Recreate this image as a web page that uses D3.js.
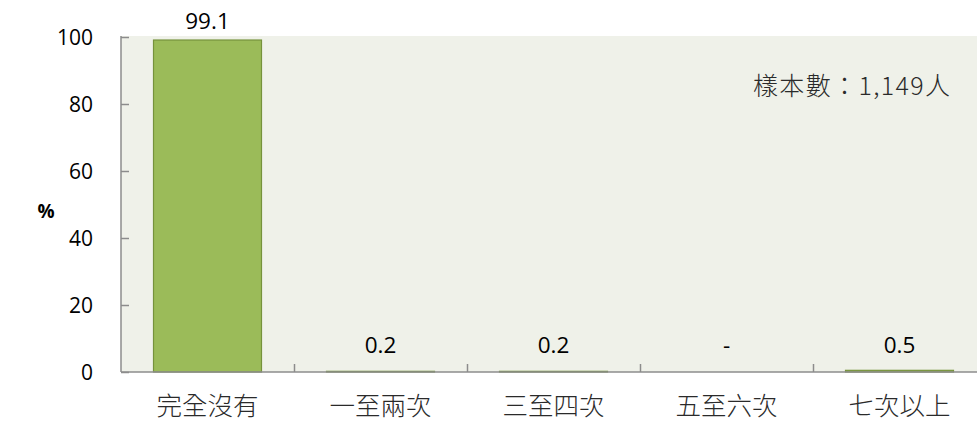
<!DOCTYPE html>
<html><head><meta charset="utf-8">
<script src="https://cdn.jsdelivr.net/npm/d3@7"></script>
<style>body{margin:0;background:#fff}</style>
</head><body><svg id="c" width="977" height="423"></svg>
<script>
const categories = ["完全沒有","一至兩次","三至四次","五至六次","七次以上"];
const values = [99.1, 0.2, 0.2, 0, 0.5];
const valueLabels = ["99.1","0.2","0.2","-","0.5"];
const yTicks = [0,20,40,60,80,100];
const sampleText = "樣本數：1,149人";
const yTitle = "%";

const svg = d3.select("#c");
const pL = 121, pR = 986, pT = 37, pB = 372;
const x = d3.scaleBand().domain(categories).range([pL, pR]).paddingInner(0.37).paddingOuter(0.185);
const y = d3.scaleLinear().domain([0,100]).range([pB, pT]);
const numFont = "'Open Sans', sans-serif";
const cjkFont = "'Noto Sans CJK TC', sans-serif";

svg.append("rect").attr("x", pL).attr("y", pT - 1).attr("width", 977 - pL).attr("height", pB - pT + 1).attr("fill", "#eff1e9");

svg.selectAll("rect.bar").data(values).join("rect").attr("class","bar")
  .attr("x", (d,i) => x(categories[i]) + 0.5)
  .attr("y", d => y(d))
  .attr("width", x.bandwidth() - 1)
  .attr("height", d => pB - y(d))
  .attr("fill", "#9bbb59")
  .attr("stroke", d => d > 0 ? "#76923c" : "none")
  .attr("stroke-width", 1.2);

// y axis
const ya = svg.append("g").attr("transform", `translate(${pL},0)`)
  .call(d3.axisRight(y).tickValues(yTicks).tickSize(8).tickFormat(""));
ya.select(".domain").attr("stroke", "#8c8c8c").attr("stroke-width", 1.5).attr("d", `M0,${pT-1}H0V${pB}`);
ya.selectAll(".tick line").attr("stroke", "#8c8c8c").attr("stroke-width", 1.5);
svg.selectAll("text.yt").data(yTicks).join("text").attr("class","yt")
  .attr("x", 93).attr("y", d => y(d)).attr("dy", "0.36em").attr("text-anchor","end")
  .attr("font-family", numFont).attr("font-size", 21).attr("fill","#000").text(d => d);

// x axis
const xa = svg.append("g").attr("transform", `translate(0,${pB})`)
  .call(d3.axisTop(d3.scaleLinear().domain([0,5]).range([pL, pR])).tickValues([1,2,3,4]).tickSize(8).tickFormat(""));
xa.select(".domain").attr("stroke", "#8c8c8c").attr("stroke-width", 1.5).attr("d", `M${pL},0H977`);
xa.selectAll(".tick line").attr("stroke", "#8c8c8c").attr("stroke-width", 1.5);
svg.selectAll("text.xt").data(categories).join("text").attr("class","xt")
  .attr("x", d => x(d) + x.bandwidth()/2).attr("y", 415).attr("text-anchor","middle")
  .attr("font-family", cjkFont).attr("font-weight", 300).attr("font-size", 25.5).attr("fill","#2a2a2a").text(d => d);

// value labels
svg.selectAll("text.vl").data(values).join("text").attr("class","vl")
  .attr("x", (d,i) => x(categories[i]) + x.bandwidth()/2)
  .attr("y", d => Math.min(y(d) - 11, pB - 19))
  .attr("text-anchor","middle").attr("font-family", numFont).attr("font-size", 22.5).attr("fill","#000")
  .text((d,i) => valueLabels[i]);

svg.append("text").attr("x", 46).attr("y", 211).attr("dy","0.35em").attr("text-anchor","middle")
  .attr("font-family", numFont).attr("font-weight","bold").attr("font-size", 19).text(yTitle);

svg.append("text").attr("x", 753).attr("y", 95)
  .attr("textLength", 197).attr("lengthAdjust", "spacing")
  .attr("font-family", cjkFont).attr("font-weight", 300).attr("font-size", 25).attr("fill","#2a2a2a").text(sampleText);
</script></body></html>
